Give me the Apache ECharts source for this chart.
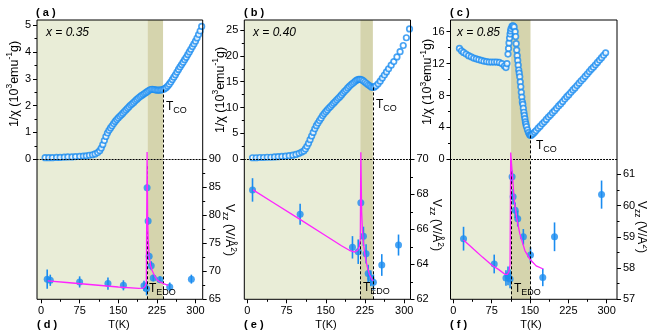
<!DOCTYPE html>
<html><head><meta charset="utf-8">
<script src="https://cdn.jsdelivr.net/npm/echarts@6/dist/echarts.min.js"></script>
<style>html,body{margin:0;padding:0;background:#fff}#c{width:647px;height:334px}</style>
</head><body><div id="c"></div>
<script>
// ---------- data ----------
const xTicks = [0, 75, 150, 225, 300];
const xMinor = [37.5, 112.5, 187.5, 262.5];

// (a) x = 0.35, 1/chi (10^3 emu^-1 g)
const tA = [8,15,22,30,37,45,52,60,67,75,82,88,94,100,105,110,114,117,120,123,126,129,132,135,138,141,144,147,150,153,156,159,162,165,168,171,174,177,180,183,186,189,192,195,198,201,204,207,210,213,216,219,222,225,228,231,234,237,240,243,246,249,252,255,258,261,264,267,270,273,276,279,282,285,288,291,294,297,300,303,306,309,312];
const chiA = [0.06,0.06,0.06,0.07,0.07,0.08,0.09,0.09,0.10,0.11,0.12,0.13,0.15,0.17,0.20,0.25,0.32,0.42,0.55,0.70,0.85,0.98,1.08,1.17,1.25,1.33,1.41,1.48,1.54,1.60,1.66,1.72,1.78,1.84,1.90,1.96,2.02,2.07,2.12,2.18,2.23,2.28,2.33,2.37,2.41,2.45,2.49,2.53,2.57,2.60,2.61,2.60,2.59,2.58,2.58,2.58,2.59,2.60,2.63,2.67,2.73,2.80,2.88,2.97,3.06,3.15,3.25,3.35,3.44,3.53,3.62,3.71,3.80,3.90,4.00,4.10,4.20,4.30,4.40,4.52,4.65,4.78,4.95];
// (b) x = 0.40
const tB = [10,17,24,31,38,45,52,59,66,73,80,87,93,99,104,108,111,114,117,120,123,126,129,132,135,138,141,144,147,150,153,156,159,162,165,168,171,174,177,180,183,186,189,192,195,198,201,204,207,210,213,216,219,222,225,228,231,234,237,240,243,246,250,254,258,262,266,270,275,280,286,292,298,304,310];
const chiB = [0.3,0.3,0.35,0.35,0.4,0.4,0.45,0.5,0.55,0.6,0.7,0.8,0.95,1.15,1.4,1.6,2.0,2.5,3.1,3.8,4.5,5.2,5.9,6.5,7.0,7.5,7.95,8.45,8.85,9.2,9.55,9.9,10.2,10.55,10.85,11.15,11.5,11.8,12.1,12.45,12.8,13.15,13.45,13.8,14.1,14.4,14.65,14.9,15.15,15.35,15.45,15.45,15.35,15.15,14.9,14.65,14.4,14.2,14.0,13.9,14.0,14.2,14.6,15.1,15.7,16.3,16.9,17.5,18.2,18.9,19.8,20.8,22.0,23.5,25.2];
// (c) x = 0.85
const tC = [12,16,20,25,30,35,40,45,50,55,60,65,70,75,80,85,90,95,100,103,105,107,108,109,110,111,112,113,115,117,119,121,122,123,124,125,126,127,128,129,130,131,132,133,134,135,136,137,138,139,140,141,142,143,145,147,149,151,153,156,159,162,166,170,174,178,182,186,190,194,198,202,206,210,214,218,222,226,230,234,238,242,246,250,254,258,262,266,270,274,278,282,286,290,294,298];
const chiC = [13.9,13.6,13.4,13.2,13.0,12.85,12.7,12.6,12.5,12.4,12.3,12.25,12.2,12.2,12.2,12.2,12.15,12.0,11.7,11.5,12.0,13.2,13.9,14.6,15.2,15.7,16.1,16.4,16.7,16.75,16.6,16.0,15.4,14.5,13.7,13.0,12.4,11.8,11.2,10.8,10.35,9.7,9.1,8.4,7.8,7.2,6.9,6.4,5.9,5.5,5.1,4.7,4.4,4.1,3.7,3.35,3.1,3.0,3.05,3.2,3.4,3.6,3.9,4.15,4.45,4.7,5.0,5.3,5.55,5.85,6.1,6.4,6.7,6.95,7.25,7.55,7.85,8.1,8.4,8.7,8.95,9.25,9.55,9.85,10.1,10.4,10.7,11.0,11.3,11.55,11.85,12.15,12.45,12.75,13.05,13.35];

// (d)(e)(f) Vzz (V/Å^2) with error bars
const vtA = [12,18,75,130,160,200,205,206,208,210,214,218,231,250,292];
const vzA = [68.6,68.4,68.1,67.8,67.5,67.4,66.9,84.9,79.0,72.7,71.0,68.8,68.5,67.2,68.6];
const veA = [1.7,1.0,1.0,1.1,0.9,0.9,1.2,0.7,0.7,0.7,0.8,0.6,0.6,0.8,0.8];
const vtB = [10,101,201,212,217,222,227,231,236,241,257,289];
const vzB = [68.25,66.86,64.97,64.72,67.52,65.6,64.6,63.48,63.2,62.97,63.96,65.1];
const veB = [0.67,0.6,0.64,0.7,0.67,0.55,0.55,0.5,0.45,0.45,0.62,0.6];
const vtC = [20,80,103,107,111,115,117,121,126,137,151,175,198,290];
const vzC = [58.94,58.13,57.68,57.75,57.65,60.92,60.28,59.85,59.58,59.0,58.42,57.7,59.0,60.35];
const veC = [0.38,0.3,0.25,0.3,0.3,0.2,0.25,0.25,0.25,0.25,0.25,0.28,0.46,0.45];

// fit curves (magenta)
const fitTA = [13,50,100,150,190,198,202,204.5,206,207,208,210,213,216,220,225,231,238,247];
const fitVA = [68.3,68.0,67.6,67.2,66.95,67.0,67.3,67.9,91.3,80,76,72.6,71,70.1,69.3,68.5,68.1,67.8,67.5];
const fitTB = [11,50,100,150,180,195,205,211,214,216,217,218.5,220,222,225,229,233,237,240];
const fitVB = [68.25,67.52,66.58,65.63,65.06,64.8,64.7,64.8,65.0,65.5,70.4,67.0,66.0,65.2,64.5,63.9,63.45,63.2,63.05];
const fitTC = [20,40,57,75,89,101,106,109,111,112.3,114,116,119,124,130,140,150,162,176];
const fitVC = [58.9,58.6,58.35,58.1,57.95,57.8,57.8,57.9,58.1,61.7,61.3,60.9,60.2,59.6,59.1,58.56,58.28,58.07,57.97];

// transitions
const tEDO = [207, 216, 113];
const tCO = [237, 240, 151];
const chiAtCO = [2.6, 13.9, 3.0];
const edoLineTop = [89, 68.9, 61.3];
const compLabels = ['x = 0.35', 'x = 0.40', 'x = 0.85'];

// axis ticks
const topTicks = [[0,1,2,3,4,5],[0,5,10,15,20,25],[0,4,8,12,16]];
const topMinor = [[0.5,1.5,2.5,3.5,4.5],[2.5,7.5,12.5,17.5,22.5],[2,6,10,14]];
const botTicks = [[65,70,75,80,85,90],[62,64,66,68,70],[57,58,59,60,61]];
const botMinor = [[67.5,72.5,77.5,82.5,87.5],[63,65,67,69],[57.5,58.5,59.5,60.5]];

// ---------- layout ----------
const FONT = '"Liberation Sans", Arial, Helvetica, sans-serif';
const BLUE = '#1a8cf0';
const MAG = '#ff22ff';
const GREEN = '#e9edd7';
const BAND = '#d5d4ad';
const G_TOP = 20, G_MID = 159.3, G_BOT = 299.3;
const layout = [
  {left:37, right:202.7, xmin:-7.8, xmax:314, topMax:5.19, botMin:65, botMax:90},
  {left:244.3, right:410.5, xmin:-5.7, xmax:311.9, topMax:26.93, botMin:62, botMax:70},
  {left:450.5, right:617, xmin:-5.5, xmax:320.2, topMax:17.47, botMin:57, botMax:61.48}
];
const panels = [
  {T:tA, chi:chiA, vT:vtA, vV:vzA, vE:veA, fT:fitTA, fV:fitVA},
  {T:tB, chi:chiB, vT:vtB, vV:vzB, vE:veB, fT:fitTB, fV:fitVB},
  {T:tC, chi:chiC, vT:vtC, vV:vzC, vE:veC, fT:fitTC, fV:fitVC}
];

const ctx = document.createElement('canvas').getContext('2d');
function tw(t, s){ ctx.font = s+'px '+FONT; return ctx.measureText(t).width; }
function parts(list, align){
  const total = list.reduce((a,p)=>a+tw(p.t,p.s),0);
  let x = align==='center' ? -total/2 : 0;
  return list.map(p=>{
    const el = {type:'text', x:x, y:p.dy||0, z:100, style:{text:p.t, fontSize:p.s, fontFamily:FONT, fill:'#000',
      textAlign:'left', textVerticalAlign:'middle', align:'left', verticalAlign:'middle'}};
    x += tw(p.t,p.s);
    return el;
  });
}
function txt(x, y, text, o){
  o = o || {};
  return {type:'text', x:x, y:y, z:100, style:{text:text, fontSize:o.s||11, fontFamily:FONT, fontWeight:o.w||'normal',
    fontStyle:o.st||'normal', fill:'#000', textAlign:o.a||'left', textVerticalAlign:'middle', align:o.a||'left', verticalAlign:'middle'}};
}

const labelStyle = {fontFamily:FONT, fontSize:11, color:'#000'};
const grids=[], xAxes=[], yAxes=[], series=[], gfx=[];

layout.forEach((L,i)=>{
  const P = panels[i];
  const gt = grids.length;
  grids.push({left:L.left, top:G_TOP, width:L.right-L.left, height:G_MID-G_TOP});
  const gb = grids.length;
  grids.push({left:L.left, top:G_MID, width:L.right-L.left, height:G_BOT-G_MID});

  const xt = xAxes.length;
  xAxes.push({gridIndex:gt, type:'value', min:L.xmin, max:L.xmax, position:'bottom', z:5,
    axisLine:{show:true, onZero:false, lineStyle:{color:'#000', width:1, type:[1.2,1.8]}},
    axisTick:{show:false}, axisLabel:{show:false}, splitLine:{show:false}});
  const xb = xAxes.length;
  xAxes.push({gridIndex:gb, type:'value', min:L.xmin, max:L.xmax, position:'bottom',
    axisLine:{show:false, onZero:false},
    axisTick:{show:true, length:4, customValues:xTicks, lineStyle:{color:'#000'}},
    axisLabel:Object.assign({customValues:xTicks, margin:6}, labelStyle), splitLine:{show:false}});
  xAxes.push({gridIndex:gb, type:'value', min:L.xmin, max:L.xmax, position:'bottom',
    axisLine:{show:false, onZero:false},
    axisTick:{show:true, length:2.5, customValues:xMinor, lineStyle:{color:'#000'}},
    axisLabel:{show:false}, splitLine:{show:false}});

  const yt = yAxes.length;
  yAxes.push({gridIndex:gt, type:'value', min:0, max:L.topMax, position:'left',
    axisLine:{show:false, onZero:false},
    axisTick:{show:true, length:4, customValues:topTicks[i], lineStyle:{color:'#000'}},
    axisLabel:Object.assign({customValues:topTicks[i], margin:6}, labelStyle), splitLine:{show:false}});
  yAxes.push({gridIndex:gt, type:'value', min:0, max:L.topMax, position:'left',
    axisLine:{show:false, onZero:false},
    axisTick:{show:true, length:2.5, customValues:topMinor[i], lineStyle:{color:'#000'}},
    axisLabel:{show:false}, splitLine:{show:false}});
  const yb = yAxes.length;
  yAxes.push({gridIndex:gb, type:'value', min:L.botMin, max:L.botMax, position:'right',
    axisLine:{show:false, onZero:false},
    axisTick:{show:true, length:4, customValues:botTicks[i], lineStyle:{color:'#000'}},
    axisLabel:Object.assign({customValues:botTicks[i], margin:6}, labelStyle), splitLine:{show:false}});
  yAxes.push({gridIndex:gb, type:'value', min:L.botMin, max:L.botMax, position:'right',
    axisLine:{show:false, onZero:false},
    axisTick:{show:true, length:2.5, customValues:botMinor[i], lineStyle:{color:'#000'}},
    axisLabel:{show:false}, splitLine:{show:false}});

  const shade = [
    [{xAxis:L.xmin, itemStyle:{color:GREEN}}, {xAxis:tEDO[i]}],
    [{xAxis:tEDO[i], itemStyle:{color:BAND}}, {xAxis:tCO[i]}]
  ];
  const dashed = {type:[3,2], color:'#000', width:1};
  series.push({type:'line', xAxisIndex:xt, yAxisIndex:yt, data:[[L.xmin,0]], symbol:'none', lineStyle:{opacity:0}, silent:true, z:0,
    markArea:{silent:true, label:{show:false}, data:shade},
    markLine:{silent:true, symbol:['none','none'], label:{show:false}, lineStyle:dashed,
      data:[[{coord:[tCO[i], chiAtCO[i]]},{coord:[tCO[i], 0]}]]}});
  series.push({type:'line', xAxisIndex:xb, yAxisIndex:yb, data:[[L.xmin,L.botMin]], symbol:'none', lineStyle:{opacity:0}, silent:true, z:0,
    markArea:{silent:true, label:{show:false}, data:shade},
    markLine:{silent:true, symbol:['none','none'], label:{show:false}, lineStyle:dashed,
      data:[[{coord:[tCO[i], L.botMin]},{coord:[tCO[i], L.botMax]}],
            [{coord:[tEDO[i], L.botMin]},{coord:[tEDO[i], edoLineTop[i]]}]]}});
  series.push({type:'scatter', xAxisIndex:xt, yAxisIndex:yt, clip:false, z:3, symbol:'circle', symbolSize:5.5,
    itemStyle:{color:'#fff', borderColor:BLUE, borderWidth:1.7},
    data:P.T.map((t,k)=>[t, P.chi[k]])});
  series.push({type:'custom', xAxisIndex:xb, yAxisIndex:yb, clip:false, z:3,
    data:P.vT.map((t,k)=>[t, P.vV[k]-P.vE[k], P.vV[k]+P.vE[k]]),
    encode:{x:0, y:[1,2]},
    renderItem:(params, api)=>{
      const a = api.coord([api.value(0), api.value(1)]);
      const b = api.coord([api.value(0), api.value(2)]);
      return {type:'line', shape:{x1:a[0], y1:a[1], x2:b[0], y2:b[1]}, style:{stroke:BLUE, lineWidth:1.6}};
    }});
  series.push({type:'scatter', xAxisIndex:xb, yAxisIndex:yb, clip:false, z:4, symbol:'circle', symbolSize:7,
    itemStyle:{color:BLUE}, data:P.vT.map((t,k)=>[t, P.vV[k]])});
  series.push({type:'line', xAxisIndex:xb, yAxisIndex:yb, clip:false, z:5, symbol:'none', smooth:false,
    lineStyle:{color:MAG, width:1.3}, data:P.fT.map((t,k)=>[t, P.fV[k]])});

  gfx.push({type:'rect', z:100, shape:{x:L.left, y:G_TOP, width:L.right-L.left, height:G_BOT-G_TOP},
    style:{fill:'none', stroke:'#000', lineWidth:1}});
});

// ---------- texts ----------
const letters = [['( a )',36,12.5],['( b )',244,12.5],['( c )',450,12.5],['( d )',37,325],['( e )',244,325],['( f )',450,325]];
letters.forEach(l=>gfx.push(txt(l[1], l[2], l[0], {w:'bold', s:11})));
[[119,325],[326,325],[531,325]].forEach(p=>gfx.push(txt(p[0], p[1], 'T(K)', {a:'center', s:11})));
[[46,32.5],[253,32.5],[457,32.5]].forEach((p,i)=>gfx.push(txt(p[0], p[1], compLabels[i], {st:'italic', s:12})));

function sub(x, y, main, s){
  return {type:'group', x:x, y:y, z:100, children:parts([{t:main, s:12},{t:s, s:9, dy:4}], 'left')};
}
[[166,107],[376,105],[536,146]].forEach(p=>gfx.push(sub(p[0], p[1], 'T', 'CO')));
[[149,288.5],[363,288],[514,289]].forEach(p=>gfx.push(sub(p[0], p[1], 'T', 'EDO')));

const chiLab = [{t:'1/\u03c7 (10', s:12.5},{t:'3', s:8.5, dy:-4.5},{t:'emu', s:12.5},{t:'-1', s:8.5, dy:-4.5},{t:'g)', s:12.5}];
[[14.5,84],[220.5,90],[428,82]].forEach(p=>gfx.push({type:'group', x:p[0], y:p[1], rotation:Math.PI/2, z:100, children:parts(chiLab,'center')}));
const vLab = [{t:'V', s:12},{t:'zz', s:8.5, dy:4},{t:' (V/\u00c5', s:12},{t:'2', s:8.5, dy:-4.5},{t:')', s:12}];
[[229,230],[436,225],[641,227]].forEach(p=>gfx.push({type:'group', x:p[0], y:p[1], rotation:-Math.PI/2, z:100, children:parts(vLab,'center')}));

const chart = echarts.init(document.getElementById('c'), null, {renderer:'canvas'});
chart.setOption({
  animation:false,
  backgroundColor:'#fff',
  grid:grids, xAxis:xAxes, yAxis:yAxes, series:series,
  graphic:{elements:gfx}
});
</script>
</body></html>
